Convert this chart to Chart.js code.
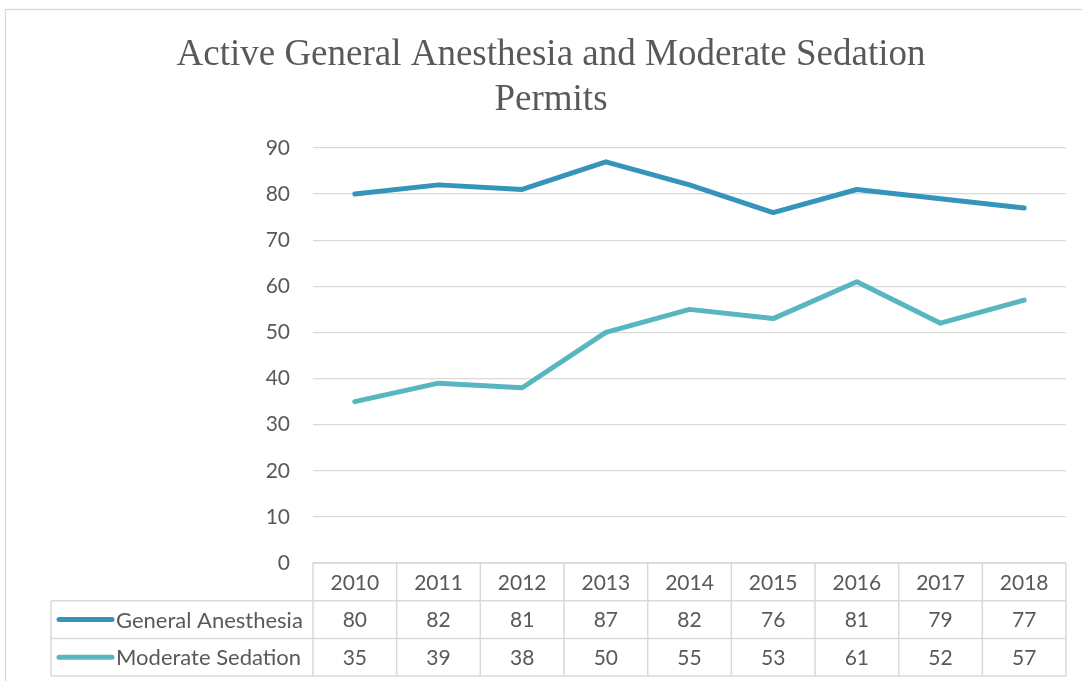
<!DOCTYPE html>
<html>
<head>
<meta charset="utf-8">
<script src="https://cdn.jsdelivr.net/npm/chart.js@4/dist/chart.umd.min.js"></script>
<style>
  html, body { margin: 0; padding: 0; background: #fff; }
  #wrap { width: 1082px; height: 681px; position: relative; }
</style>
</head>
<body>
<div id="wrap"><canvas id="chart" width="1082" height="681"></canvas></div>
<script>
var titleLines = ["Active General Anesthesia and Moderate Sedation", "Permits"];
var years = ["2010", "2011", "2012", "2013", "2014", "2015", "2016", "2017", "2018"];
var generalAnesthesia = [80, 82, 81, 87, 82, 76, 81, 79, 77];
var moderateSedation = [35, 39, 38, 50, 55, 53, 61, 52, 57];
var yTicks = [0, 10, 20, 30, 40, 50, 60, 70, 80, 90];

var textColor = "#595959";
var lineGrey = "#d9d9d9";
var gaColor = "#3494ba";
var msColor = "#58b6c0";
var bodyFont = "Lato, 'Open Sans', sans-serif";

// frame + white background
var framePlugin = {
    id: "frame",
    beforeDraw: function(chart) {
        var ctx = chart.ctx;
        ctx.save();
        ctx.fillStyle = "#fff";
        ctx.fillRect(0, 0, chart.width, chart.height);
        ctx.strokeStyle = lineGrey;
        ctx.lineWidth = 1.3;
        ctx.strokeRect(5.5, 9.5, 1100, 700);
        ctx.restore();
    }
};

// data table under the plot, uses the x scale for its columns
var tablePlugin = {
    id: "dataTable",
    afterDraw: function(chart) {
        var ctx = chart.ctx;
        var xs = chart.scales.x;
        var area = chart.chartArea;
        var half = (xs.getPixelForValue(1) - xs.getPixelForValue(0)) / 2;
        var top = area.bottom;
        var rowH = 37.7;
        var tableLeft = 51;
        var rows = [top, top + rowH, top + 2 * rowH, top + 3 * rowH];

        ctx.save();
        ctx.strokeStyle = lineGrey;
        ctx.lineWidth = 1.5;
        ctx.beginPath();
        ctx.moveTo(area.left, rows[0]);
        ctx.lineTo(area.right, rows[0]);
        for (var r = 1; r < rows.length; r++) {
            ctx.moveTo(tableLeft, rows[r]);
            ctx.lineTo(area.right, rows[r]);
        }
        ctx.moveTo(tableLeft, rows[1]);
        ctx.lineTo(tableLeft, rows[3]);
        for (var i = 0; i <= years.length; i++) {
            var bx = xs.getPixelForValue(0) - half + i * 2 * half;
            ctx.moveTo(bx, rows[0]);
            ctx.lineTo(bx, rows[3]);
        }
        ctx.stroke();

        ctx.fillStyle = textColor;
        ctx.font = "21px " + bodyFont;
        ctx.textAlign = "center";
        ctx.textBaseline = "middle";
        years.forEach(function(y, i) {
            var cx = xs.getPixelForValue(i);
            ctx.fillText(y, cx, rows[0] + rowH / 2 + 1);
            ctx.fillText(String(generalAnesthesia[i]), cx, rows[1] + rowH / 2 + 1);
            ctx.fillText(String(moderateSedation[i]), cx, rows[2] + rowH / 2 + 1);
        });

        // legend keys
        var series = [
            { name: "General Anesthesia", color: gaColor },
            { name: "Moderate Sedation", color: msColor }
        ];
        ctx.font = "22px " + bodyFont;
        series.forEach(function(s, k) {
            var my = rows[k + 1] + rowH / 2;
            ctx.strokeStyle = s.color;
            ctx.lineWidth = 5;
            ctx.lineCap = "round";
            ctx.beginPath();
            ctx.moveTo(59, my);
            ctx.lineTo(112, my);
            ctx.stroke();
            ctx.textAlign = "left";
            ctx.fillText(s.name, 116, my + 1);
        });
        ctx.restore();
    }
};

var data = {
    labels: years,
    datasets: [
        {
            label: "General Anesthesia",
            data: generalAnesthesia,
            borderColor: gaColor,
            backgroundColor: gaColor,
            borderWidth: 5,
            pointRadius: 0,
            borderCapStyle: "round",
            borderJoinStyle: "round"
        },
        {
            label: "Moderate Sedation",
            data: moderateSedation,
            borderColor: msColor,
            backgroundColor: msColor,
            borderWidth: 5,
            pointRadius: 0,
            borderCapStyle: "round",
            borderJoinStyle: "round"
        }
    ]
};

var options = {
    responsive: false,
    animation: false,
    layout: { padding: { left: 36, right: 16, top: 0, bottom: 118 } },
    plugins: {
        legend: { display: false },
        tooltip: { enabled: false },
        title: {
            display: true,
            text: titleLines,
            color: textColor,
            font: { family: "'Liberation Serif', 'Times New Roman', serif", size: 37, weight: "normal", lineHeight: 1.216 },
            padding: { top: 33, bottom: 25 }
        }
    },
    scales: {
        x: {
            display: false,
            offset: true
        },
        y: {
            min: 0,
            max: 90,
            afterBuildTicks: function(scale) {
                scale.ticks = yTicks.map(function(v) { return { value: v }; });
            },
            afterFit: function(scale) { scale.width = 277; },
            border: { display: false },
            grid: { color: lineGrey, lineWidth: 1.3, drawTicks: false },
            ticks: { color: textColor, padding: 23, font: { family: bodyFont, size: 21 } }
        }
    }
};

new Chart(document.getElementById("chart"), {
    type: "line",
    data: data,
    options: options,
    plugins: [framePlugin, tablePlugin]
});
</script>
</body>
</html>
